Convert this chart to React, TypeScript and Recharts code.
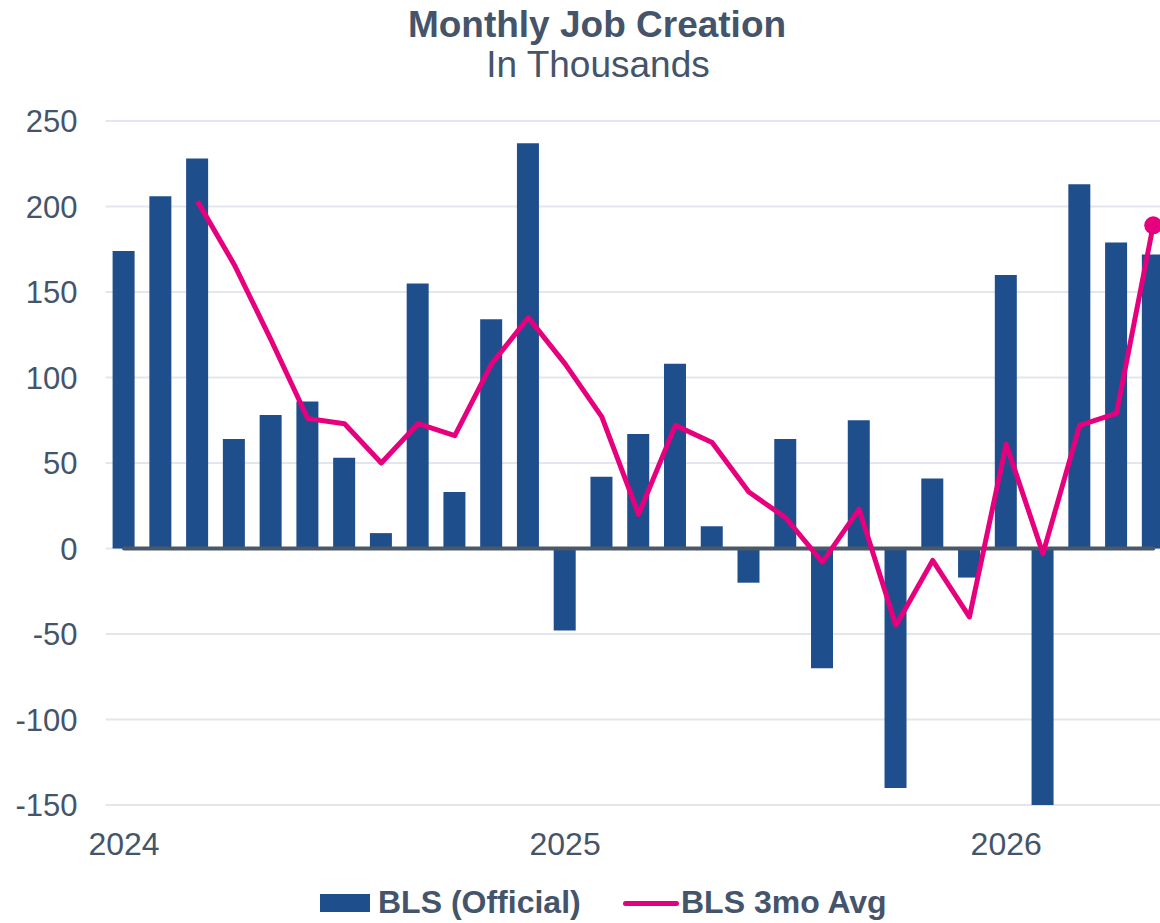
import {
  ComposedChart,
  Bar,
  Line,
  XAxis,
  YAxis,
  CartesianGrid,
  ReferenceLine,
  Legend,
} from 'recharts';

// Months shown on the category axis
const months = [
  '2024-01', '2024-02', '2024-03', '2024-04', '2024-05', '2024-06',
  '2024-07', '2024-08', '2024-09', '2024-10', '2024-11', '2024-12',
  '2025-01', '2025-02', '2025-03', '2025-04', '2025-05', '2025-06',
  '2025-07', '2025-08', '2025-09', '2025-10', '2025-11', '2025-12',
  '2026-01', '2026-02', '2026-03', '2026-04', '2026-05',
];

// BLS official monthly change, thousands
const official = [
  174, 206, 228, 64, 78, 86, 53, 9, 155, 33, 134, 237,
  -48, 42, 67, 108, 13, -20, 64, -70, 75, -140, 41, -17,
  160, -150, 213, 179, 172,
];

// BLS 3-month average, thousands
const avg3mo = [
  null, null, 203, 166, 122, 76, 73, 50, 73, 66, 108, 135,
  108, 77, 20, 72, 62, 33, 18, -8, 23, -45, -7, -40,
  61, -3, 72, 79, 189,
];

const yearTicks = ['2024-01', '2025-01', '2026-01'];
const yTicks = [-150, -100, -50, 0, 50, 100, 150, 200, 250];

const data = months.map((m, i) => ({ month: m, bls: official[i], avg: avg3mo[i] }));

const BLUE = '#1F4E8D';
const PINK = '#E6007E';
const TEXT = '#44546A';
const FONT = '"Liberation Sans", Arial, sans-serif';

const LegendContent = () => (
  <div style={{ position: 'relative', height: 45, fontFamily: FONT, fontWeight: 'bold', fontSize: 32, color: TEXT }}>
    <div style={{ position: 'absolute', left: 320, top: 16, width: 50, height: 18, background: BLUE }} />
    <div style={{ position: 'absolute', left: 378, top: 5, lineHeight: '38px' }}>BLS (Official)</div>
    <div style={{ position: 'absolute', left: 623, top: 22.5, width: 56, height: 5, borderRadius: 3, background: PINK }} />
    <div style={{ position: 'absolute', left: 681, top: 5, lineHeight: '38px' }}>BLS 3mo Avg</div>
  </div>
);

const lastIndex = months.length - 1;

const App = () => {
  return (
    <div style={{ position: 'fixed', left: 0, top: 0, width: 1160, height: 923, overflow: 'hidden', background: '#fff' }}>
      <svg width={1160} height={100} style={{ position: 'absolute', left: 0, top: 0 }}>
        <text x={597} y={37} textAnchor='middle' fontFamily={FONT} fontWeight='bold' fontSize={37} fill={TEXT}>
          Monthly Job Creation
        </text>
        <text x={598} y={77} textAnchor='middle' fontFamily={FONT} fontSize={37} fill={TEXT}>
          In Thousands
        </text>
      </svg>
      <div style={{ position: 'absolute', left: 0, top: 0 }}>
        <ComposedChart
          width={1180}
          height={923}
          data={data}
          margin={{ top: 121, right: 8.4, left: 0, bottom: 0 }}
        >
          <CartesianGrid vertical={false} stroke='#E3E7ED' strokeWidth={2} />
          <XAxis
            dataKey='month'
            ticks={yearTicks}
            interval={0}
            tickFormatter={(v: string) => v.slice(0, 4)}
            axisLine={false}
            tickLine={false}
            tickSize={0}
            tickMargin={27}
            height={118}
            tick={{ fill: TEXT, fontSize: 32, fontFamily: FONT }}
          />
          <YAxis
            domain={[-150, 250]}
            ticks={yTicks}
            allowDataOverflow
            width={105.6}
            axisLine={false}
            tickLine={false}
            tickSize={0}
            tickMargin={28}
            tick={{ fill: TEXT, fontSize: 31, fontFamily: FONT }}
          />
          <Bar dataKey='bls' fill={BLUE} barSize={22} isAnimationActive={false} />
          <ReferenceLine
            segment={[{ x: months[0], y: 0 }, { x: months[lastIndex], y: 0 }]}
            stroke='#4A5868'
            strokeWidth={4}
            strokeLinecap='round'
          />
          <Line
            dataKey='avg'
            stroke={PINK}
            strokeWidth={5}
            strokeLinejoin='round'
            isAnimationActive={false}
            dot={(p: any) =>
              p.index === lastIndex ? (
                <circle key={`d${p.index}`} cx={p.cx} cy={p.cy} r={9} fill={PINK} />
              ) : (
                <g key={`d${p.index}`} />
              )
            }
            activeDot={false}
          />
          <Legend
            verticalAlign='middle'
            content={LegendContent}
            wrapperStyle={{ top: 878, left: 0, width: 1160, height: 45 }}
          />
        </ComposedChart>
      </div>
    </div>
  );
};

export default App;
